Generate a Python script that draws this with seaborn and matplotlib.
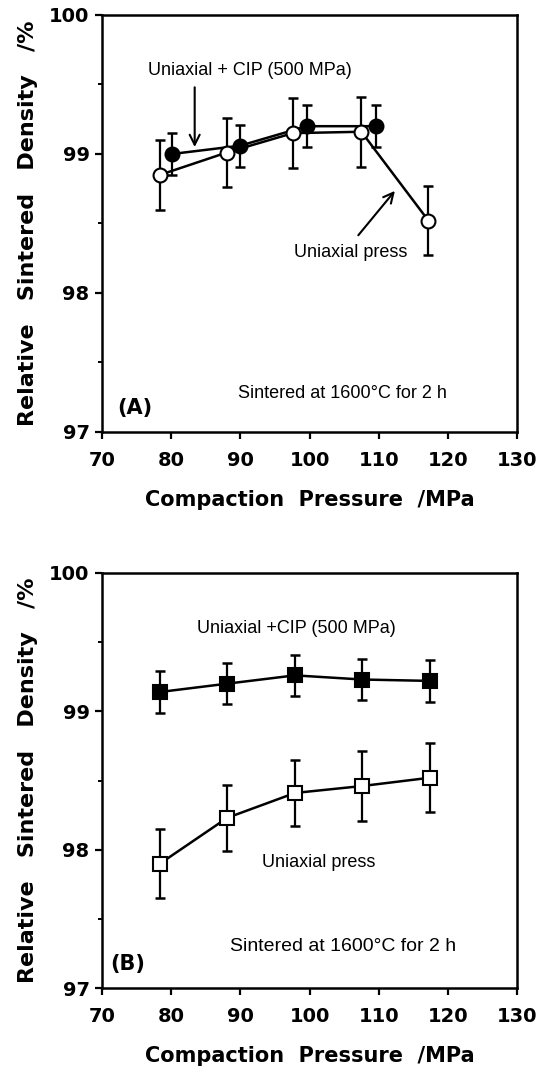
import numpy as np
import pandas as pd
import matplotlib
matplotlib.use("Agg")
import matplotlib.pyplot as plt
import seaborn as sns
from matplotlib.ticker import MultipleLocator

# ─── DATA ───────────────────────────────────────────────
# Panel A: uniaxial press (open circles) and uniaxial + CIP (filled circles)
a_press_x = [78.4, 88.0, 97.6, 107.5, 117.2]
a_press_y = [98.85, 99.01, 99.15, 99.16, 98.52]
a_press_err = [0.25, 0.25, 0.25, 0.25, 0.25]

a_cip_x = [80.1, 90.0, 99.6, 109.6]
a_cip_y = [99.00, 99.06, 99.20, 99.20]
a_cip_err = [0.15, 0.15, 0.15, 0.15]

# Panel B: uniaxial press (open squares) and uniaxial + CIP (filled squares)
b_x = [78.4, 88.1, 97.9, 107.6, 117.4]
b_press_y = [97.90, 98.23, 98.41, 98.46, 98.52]
b_press_err = [0.25, 0.24, 0.24, 0.25, 0.25]
b_cip_y = [99.14, 99.20, 99.26, 99.23, 99.22]
b_cip_err = [0.15, 0.15, 0.15, 0.15, 0.15]

x_ticks = [70, 80, 90, 100, 110, 120, 130]
y_ticks = [97, 98, 99, 100]

# ─── STYLE ──────────────────────────────────────────────
sns.set_style("ticks")
plt.rcParams['font.family'] = ['DejaVu Sans']
plt.rcParams['text.color'] = 'black'
plt.rcParams['axes.labelcolor'] = 'black'
plt.rcParams['xtick.color'] = 'black'
plt.rcParams['ytick.color'] = 'black'
PLAIN = ['Liberation Sans', 'DejaVu Sans']
LW = 1.8

fig = plt.figure(figsize=(5.51, 10.78), dpi=100)
axA = fig.add_axes([102 / 551, 1 - 432 / 1078, 415 / 551, 417 / 1078])
axB = fig.add_axes([102 / 551, 1 - 988 / 1078, 415 / 551, 415 / 1078])


def series(ax, x, y, err, marker, filled, ms):
    df = pd.DataFrame({'x': x, 'y': y})
    ax.errorbar(x, y, yerr=err, fmt='none', ecolor='black', elinewidth=1.6,
                capsize=3.5, capthick=1.8, zorder=2)
    sns.lineplot(data=df, x='x', y='y', ax=ax, color='black', lw=LW,
                 marker=marker, markersize=ms,
                 markerfacecolor='black' if filled else 'white',
                 markeredgecolor='black', markeredgewidth=1.5, zorder=3)


def style_axes(ax):
    ax.set_xlim(70, 130)
    ax.set_ylim(97, 100)
    ax.set_xticks(x_ticks)
    ax.set_yticks(y_ticks)
    ax.yaxis.set_minor_locator(MultipleLocator(0.5))
    ax.tick_params(axis='both', which='major', direction='out', length=5,
                   width=1.6, labelsize=14, pad=4)
    ax.tick_params(axis='y', which='minor', direction='out', length=3, width=1.4)
    ax.tick_params(axis='x', pad=9)
    for lab in ax.get_xticklabels() + ax.get_yticklabels():
        lab.set_fontweight('bold')
    for sp in ax.spines.values():
        sp.set_linewidth(LW)
        sp.set_color('black')
    ax.set_xlabel("Compaction  Pressure  /MPa", fontsize=15, fontweight='bold',
                  labelpad=14)
    ax.set_ylabel("Relative   Sintered   Density   /%", fontsize=16,
                  fontweight='bold', labelpad=8)


# ─── PANEL A ────────────────────────────────────────────
series(axA, a_cip_x, a_cip_y, a_cip_err, 'o', True, 10)
series(axA, a_press_x, a_press_y, a_press_err, 'o', False, 10)
style_axes(axA)

axA.text(91.4, 99.6, "Uniaxial + CIP (500 MPa)", fontsize=13, family=PLAIN,
         ha='center', va='center')
axA.annotate("", xy=(83.4, 99.03), xytext=(83.4, 99.5),
             arrowprops=dict(arrowstyle='->', lw=1.5, color='black',
                             mutation_scale=18))
axA.text(106.0, 98.29, "Uniaxial press", fontsize=13, family=PLAIN,
         ha='center', va='center')
axA.annotate("", xy=(112.6, 98.75), xytext=(106.8, 98.40),
             arrowprops=dict(arrowstyle='->', lw=1.5, color='black',
                             mutation_scale=18))
axA.text(104.7, 97.28, "Sintered at 1600\u00b0C for 2 h", fontsize=13,
         family=PLAIN, ha='center', va='center')
axA.text(72.2, 97.17, "(A)", fontsize=15, fontweight='bold', ha='left',
         va='center')

# ─── PANEL B ────────────────────────────────────────────
series(axB, b_x, b_cip_y, b_cip_err, 's', True, 9.5)
series(axB, b_x, b_press_y, b_press_err, 's', False, 9.5)
style_axes(axB)

axB.text(98.1, 99.60, "Uniaxial +CIP (500 MPa)", fontsize=13, family=PLAIN,
         ha='center', va='center')
axB.text(101.4, 97.91, "Uniaxial press", fontsize=13, family=PLAIN,
         ha='center', va='center')
axB.text(104.8, 97.30, "Sintered at 1600\u00b0C for 2 h", fontsize=14,
         family=PLAIN, ha='center', va='center')
axB.text(71.2, 97.17, "(B)", fontsize=15, fontweight='bold', ha='left',
         va='center')

plt.savefig("out.png", dpi=100)
